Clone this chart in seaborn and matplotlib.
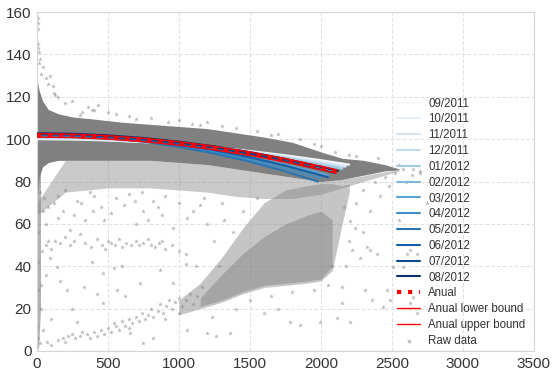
import numpy as np
import matplotlib
matplotlib.use("Agg")
import matplotlib.pyplot as plt
import seaborn as sns

# Monthly fitted curves
MONTHS = ['09/2011', '10/2011', '11/2011', '12/2011', '01/2012', '02/2012',
          '03/2012', '04/2012', '05/2012', '06/2012', '07/2012', '08/2012']
GRID_X = [0, 250, 500, 750, 1000, 1250, 1500, 1750, 2000]
MONTH_END = [2200, 2180, 2170, 2150, 2150, 2100, 2050, 2000, 1980, 2050, 2100, 2120]
MONTH_Y = [
    [100.0, 99.85, 99.38, 98.61, 97.52, 96.13, 94.42, 92.41, 90.08, 88.0],
    [100.2, 100.03, 99.53, 98.70, 97.53, 96.02, 94.19, 92.02, 89.51, 87.5],
    [100.5, 100.32, 99.78, 98.89, 97.63, 96.02, 94.05, 91.72, 89.03, 87.0],
    [100.8, 100.61, 100.03, 99.06, 97.71, 95.97, 93.84, 91.33, 88.43, 86.5],
    [101.0, 100.80, 100.19, 99.17, 97.76, 95.93, 93.70, 91.06, 88.02, 86.0],
    [101.3, 101.06, 100.35, 99.16, 97.49, 95.35, 92.73, 89.63, 86.06, 84.5],
    [101.5, 101.22, 100.40, 99.02, 97.10, 94.62, 91.60, 88.02, 83.89, 83.0],
    [101.8, 101.48, 100.53, 98.95, 96.73, 93.87, 90.38, 86.26, 81.5],
    [102.0, 101.65, 100.60, 98.84, 96.39, 93.23, 89.37, 84.81, 80.0],
    [102.3, 102.00, 101.09, 99.58, 97.47, 94.75, 91.43, 87.51, 82.98, 82.0],
    [102.5, 102.24, 101.45, 100.14, 98.30, 95.95, 93.06, 89.65, 85.72, 84.0],
    [102.8, 102.55, 101.81, 100.57, 98.84, 96.61, 93.89, 90.67, 86.96, 85.0],
]

# Annual fit and bounds
ANNUAL_X = [0, 250, 500, 750, 1000, 1250, 1500, 1750, 2000, 2110]
ANNUAL_Y = [101.8, 101.56, 100.84, 99.64, 97.96, 95.80, 93.16, 90.04, 86.44, 84.7]
LOWER_Y = [101.0, 100.76, 100.04, 98.84, 97.16, 95.0, 92.36, 89.24, 85.64, 83.9]
UPPER_Y = [102.6, 102.36, 101.64, 100.44, 98.76, 96.6, 93.96, 90.84, 87.24, 85.5]

# Dense part of the raw data cloud (envelopes)
BAND_X = [0, 15, 40, 80, 150, 250, 400, 600, 800, 1000, 1200, 1400, 1600, 1800, 2000, 2150, 2300, 2450, 2550]
BAND_HI = [128, 123, 118, 114, 112, 110.5, 109.5, 108, 107, 106, 105, 103, 101, 98.5, 94, 91, 90, 88, 86]
BAND_LO = [70, 82, 87, 89, 90, 90, 90, 90, 90, 89, 88, 86, 84, 82, 80, 81, 83, 85, 85.5]
MID_X = [0, 200, 500, 800, 1000, 1200, 1400, 1600, 1800, 2000, 2200, 2400, 2550]
MID_LO = [64, 75, 77, 77, 76, 75, 73, 72, 72, 74, 78, 82, 85]
MID_HI = [70, 90, 90, 90, 89, 88, 86, 84, 82, 80, 81.5, 84, 85.5]
BR_X = [1000, 1150, 1300, 1450, 1600, 1750, 1900, 2000, 2080, 2150, 2200]
BR_LO = [17, 20, 23, 27, 30, 31, 32, 33, 38, 60, 75]
BR_HI = [24, 32, 44, 58, 70, 76, 78, 79, 79, 78, 79]
CORE_X = [1150, 1300, 1450, 1600, 1750, 1900, 2000, 2080]
CORE_LO = [21, 24, 28, 31, 32, 33, 34, 40]
CORE_HI = [25, 36, 46, 54, 60, 64, 66, 62]
COL_X = [0, 12, 25]
COL_LO = [0, 2, 20]
COL_HI = [90, 88, 86]

# Sparse raw data points
SPIKE = [(5, 157), (5, 155), (5, 152), (8, 145), (10, 143), (15, 141), (20, 138), (12, 136),
         (40, 134), (30, 131), (60, 129), (92, 130), (80, 126), (113, 125), (127, 121), (150, 120),
         (120, 122), (200, 117), (246, 118), (317, 113), (359, 115), (430, 116), (387, 114),
         (400, 114), (500, 113), (560, 112), (650, 111), (800, 110), (923, 108), (1000, 109),
         (1090, 107), (1200, 108), (1300, 106), (1400, 105.5), (1550, 104), (1700, 102.5),
         (1850, 100), (2000, 97), (2100, 94), (2250, 92), (2400, 91), (2550, 88), (2650, 86), (2700, 84),
         (700, 109.5), (1150, 106.5), (1650, 102), (1950, 97.5), (2200, 92.5), (300, 111.5)]
CLUSTER50 = [(60, 50), (80, 52), (100, 48), (130, 52), (160, 51), (200, 54), (230, 50), (260, 52),
             (300, 55), (340, 51), (380, 49), (420, 53), (460, 50), (480, 48), (500, 52), (520, 51),
             (550, 50), (580, 53), (600, 49), (630, 51), (660, 50), (700, 52), (720, 50), (750, 51),
             (780, 53), (800, 50), (830, 49), (860, 51), (880, 52), (900, 48), (950, 50), (1000, 47),
             (1050, 46)]
BRANCH = [(100, 3), (150, 5), (180, 6), (200, 4), (220, 7), (250, 8), (270, 6), (300, 7), (320, 9),
          (350, 8), (370, 6), (400, 9), (420, 7), (450, 10), (470, 8), (500, 11), (520, 9), (540, 13),
          (560, 12), (580, 10), (600, 14), (620, 12), (650, 15), (670, 13), (700, 16), (720, 14),
          (740, 18), (760, 15), (780, 17), (800, 20), (820, 16), (850, 19), (870, 22), (890, 18),
          (910, 21), (930, 24), (950, 20), (970, 23), (1000, 25), (1020, 21), (1050, 24), (1080, 27),
          (1100, 22), (1130, 26), (1160, 30), (1000, 18), (900, 15), (650, 11)]
SPARSE_LOW = [(42, 10), (30, 20), (25, 31), (7, 29), (60, 36), (141, 39.5), (160, 33), (211, 29),
              (232, 57), (150, 63), (281, 71), (394, 66), (470, 62), (560, 72), (746, 66), (820, 71),
              (958, 58), (1100, 66), (1050, 41), (1180, 72), (465, 36.7), (540, 39), (725, 32),
              (866, 38), (655, 8.5), (746, 3.8), (820, 6), (1056, 10), (1197, 8.5), (1260, 7),
              (1359, 8.5), (21, 3.8), (70, 4), (281, 13.6), (465, 22.6), (563, 29), (620, 26),
              (958, 32), (330, 30), (390, 42), (600, 40), (700, 60), (880, 64), (1000, 70),
              (120, 70), (200, 76), (340, 62), (420, 27), (250, 20), (100, 15), (60, 60), (90, 44),
              (35, 47), (45, 66), (20, 75), (10, 56), (5, 42), (3, 12), (8, 6), (1120, 40), (1250, 52),
              (1200, 60), (1320, 62), (1380, 56), (1280, 40), (1230, 16), (1400, 20), (1500, 24),
              (1450, 66), (1550, 72), (1300, 70), (150, 73), (400, 73), (650, 74), (900, 73),
              (80, 68), (180, 66), (260, 64), (310, 70), (450, 68), (520, 65), (610, 69), (690, 71),
              (780, 62), (850, 68), (1060, 63), (1150, 69), (50, 72), (370, 75), (740, 75)]
RIGHT = [(2218, 47.5), (2275, 44), (2324, 49), (2345, 47.5), (2394, 46), (2239, 58), (2204, 61.6),
         (2345, 66), (2415, 73), (2310, 28.7), (2359, 24), (2148, 22.6), (2113, 15.5), (2204, 13.6),
         (1782, 13.6), (1852, 12.2), (1993, 13.6), (2437, 20.7), (2465, 28.7), (2486, 24),
         (2627, 22.6), (2648, 25.4), (2676, 18), (2606, 46), (2577, 39.5), (2507, 39.5),
         (2627, 47.5), (2676, 46), (2450, 82), (2520, 84), (2580, 86), (2640, 83), (2700, 85),
         (2600, 80), (2480, 78), (2150, 30), (2080, 40), (2250, 70), (2300, 56), (1700, 20),
         (1600, 18), (2550, 62), (2750, 70), (1650, 26), (1800, 28), (1950, 29), (2050, 31),
         (2180, 40), (2200, 52), (2160, 68), (2300, 76), (2380, 80)]

sns.set_style('whitegrid', {'grid.linestyle': '--', 'grid.color': '#e3e3e3',
                            'axes.edgecolor': '#d5d5d5'})
plt.rcParams['font.family'] = ['Liberation Sans', 'DejaVu Sans']

fig = plt.figure(figsize=(5.52, 3.79), dpi=100)
ax = fig.add_axes([0.067, 0.074, 0.9, 0.894])

gray = '#808080'
ax.fill_between(COL_X, COL_LO, COL_HI, color=gray, alpha=0.6, lw=0, zorder=1)
ax.fill_between(MID_X, MID_LO, MID_HI, color=gray, alpha=0.42, lw=0, zorder=1)
ax.fill_between(BR_X, BR_LO, BR_HI, color=gray, alpha=0.45, lw=0, zorder=1)
ax.fill_between(CORE_X, CORE_LO, CORE_HI, color=gray, alpha=0.45, lw=0, zorder=1)
ax.fill_between(BAND_X, BAND_LO, BAND_HI, color=gray, alpha=1.0, lw=0, zorder=1)

pts = SPIKE + CLUSTER50 + BRANCH + SPARSE_LOW + RIGHT
raw_x = [p[0] for p in pts]
raw_y = [p[1] for p in pts]
ax.scatter(raw_x, raw_y, marker='*', s=13, color=gray, alpha=0.55,
           linewidths=0, zorder=2, label='Raw data')

colors = plt.cm.Blues(np.linspace(0, 1, len(MONTHS)))
for name, end, ys, c in zip(MONTHS, MONTH_END, MONTH_Y, colors):
    xs = [x for x in GRID_X if x < end] + [end]
    sns.lineplot(x=xs, y=ys, color=c, lw=1.5, ax=ax, label=name, sort=False, zorder=3)
sns.lineplot(x=ANNUAL_X, y=LOWER_Y, color='red', lw=1, ax=ax, label='Anual lower bound', zorder=4)
sns.lineplot(x=ANNUAL_X, y=UPPER_Y, color='red', lw=1, ax=ax, label='Anual upper bound', zorder=4)
sns.lineplot(x=ANNUAL_X, y=ANNUAL_Y, color='red', lw=3, ls=':', ax=ax, label='Anual', zorder=5)

h, l = ax.get_legend_handles_labels()
hmap = dict(zip(l, h))
order = MONTHS + ['Anual', 'Anual lower bound', 'Anual upper bound', 'Raw data']
ax.legend([hmap[k] for k in order], order, loc='lower right', bbox_to_anchor=(0.997, -0.008),
          frameon=False, fontsize=8.3, labelspacing=0.33, handlelength=2.0,
          handletextpad=0.7, borderaxespad=0.2, labelcolor='#333333', markerscale=1.2)

ax.set_xlim(0, 3500)
ax.set_ylim(0, 160)
ax.set_xticks(range(0, 3501, 500))
ax.set_yticks(range(0, 161, 20))
ax.tick_params(labelsize=11, colors='#333333', length=0, pad=4)
ax.set_xlabel('')
ax.set_ylabel('')

fig.savefig('out.png', dpi=100)
